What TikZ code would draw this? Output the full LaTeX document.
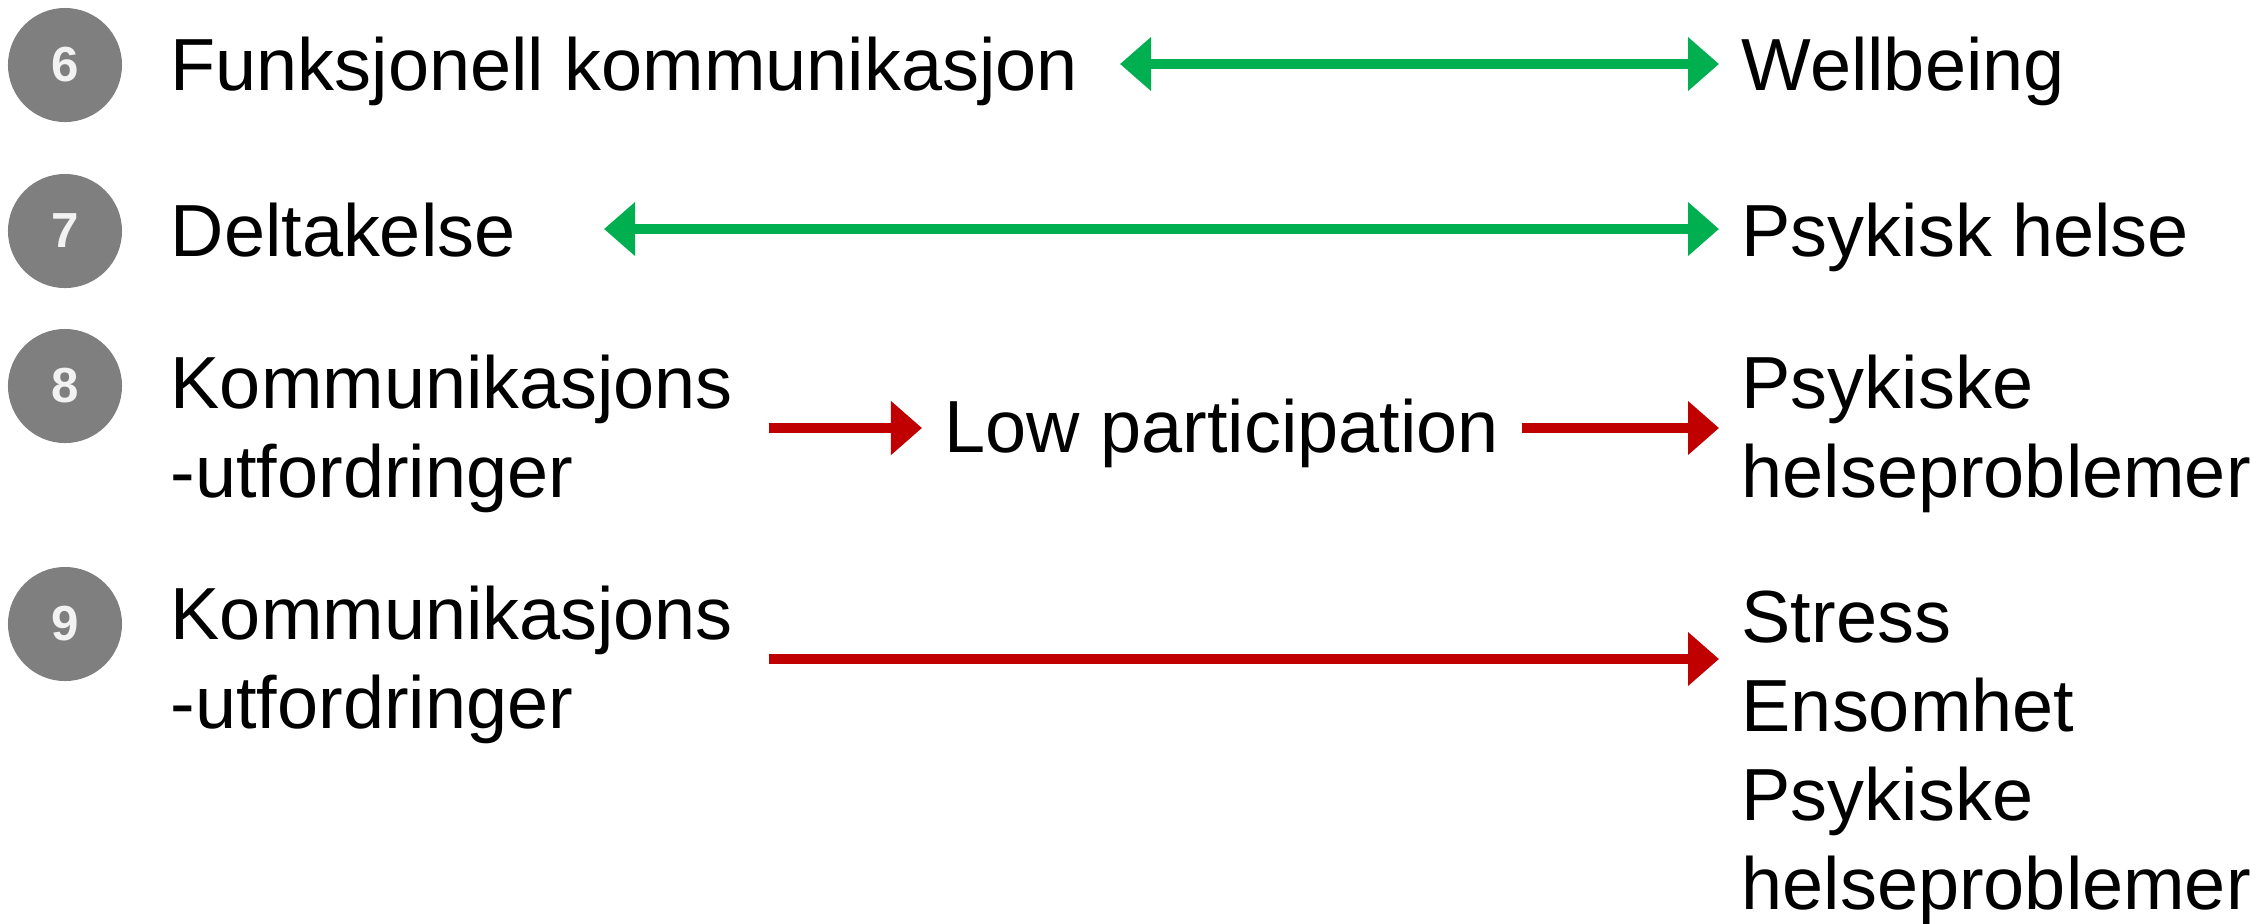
\documentclass[tikz,border=0pt]{standalone}
\usepackage{fontspec}
\setmainfont{Liberation Sans}
\usetikzlibrary{arrows.meta}
\definecolor{arrowgreen}{HTML}{00B050}
\definecolor{arrowred}{HTML}{C00000}
\definecolor{numgray}{HTML}{7F7F7F}
\definecolor{numtext}{HTML}{F2F2F2}
\begin{document}
\begin{tikzpicture}[x=0.01cm,y=-0.01cm,
		num/.style={circle,fill=numgray,minimum size=1.14cm,inner sep=0pt,text=numtext,font=\fontsize{14pt}{14pt}\selectfont\bfseries},
		txt/.style={anchor=base west,inner sep=0pt,align=left,font=\fontsize{21pt}{25.3pt}\selectfont},
		rtxt/.style={txt,inner xsep=0.22cm},
		garrow/.style={line width=0.1cm,arrowgreen,{Triangle[length=0.31cm,width=0.52cm]}-{Triangle[length=0.31cm,width=0.52cm]}},
		rarrow/.style={line width=0.1cm,arrowred,-{Triangle[length=0.31cm,width=0.52cm]}}]
		\useasboundingbox (0,0) rectangle (2266,923);

		\node[num] (n6) at (65,65) {6};
		\node[num] (n7) at (65,231) {7};
		\node[num] (n8) at (65,386) {8};
		\node[num] (n9) at (65,624) {9};

		% base west = baseline of the last line
		\node[txt] (fk) at (170,90) {Funksjonell kommunikasjon};
		\node[txt] (dt) at (170,256) {Deltakelse};
		\node[txt] (k8) at (170,497) {Kommunikasjons\\-utfordringer};
		\node[txt] (k9) at (170,728) {Kommunikasjons\\-utfordringer};

		\node[rtxt] (lp) at (922,452) {Low participation};

		\node[rtxt] (wb) at (1719,90) {Wellbeing};
		\node[rtxt] (ph) at (1719,256) {Psykisk helse};
		\node[rtxt] (ps8) at (1719,497) {Psykiske\\helseproblemer};
		\node[rtxt] (ps9) at (1719,909) {Stress\\Ensomhet\\Psykiske\\helseproblemer};

		\coordinate (s6) at (1120,64);
		\coordinate (s7) at (604,229);
		\coordinate (s8) at (769,428);
		\coordinate (s9) at (769,659);

		\draw[garrow] (s6) -- (wb.west |- s6);
		\draw[garrow] (s7) -- (ph.west |- s7);
		\draw[rarrow] (s8) -- (lp.west |- s8);
		\draw[rarrow] (lp.east |- s8) -- (ps8.west |- s8);
		\draw[rarrow] (s9) -- (ps9.west |- s9);
	\end{tikzpicture}
\end{document}
